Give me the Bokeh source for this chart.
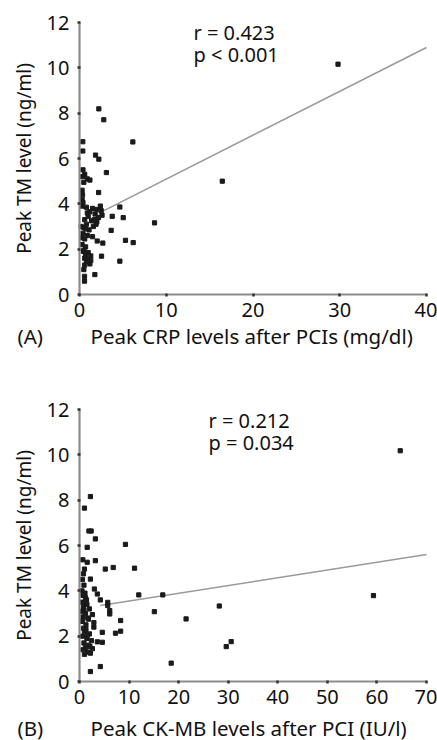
import math
from bokeh.plotting import figure
from bokeh.layouts import column
from bokeh.models import Range1d, FixedTicker, Label, LinearAxis
from bokeh.embed import file_html
from bokeh.resources import INLINE

# ---------------- data ----------------
crp = [2.23, 2.8, 0.38, 0.38, 6.15, 1.85, 2.23, 3.1, 0.4, 0.6, 0.9, 1.2, 0.5,
       2.2, 0.3, 0.35, 0.3, 0.4, 4.65, 0.8, 1.5, 2.0, 2.5, 1.2, 1.8, 2.6, 1.0,
       2.2, 3.77, 5.04, 8.65, 0.6, 1.4, 2.0, 0.8, 1.6, 0.5, 1.1, 3.65, 0.4,
       0.9, 1.5, 0.6, 2.04, 2.69, 5.3, 6.19, 0.3, 0.7, 0.5, 1.0, 0.7, 1.3,
       2.54, 0.6, 1.0, 0.8, 4.65, 1.2, 0.6, 1.77, 0.58, 0.58, 16.46, 29.8,
       0.3, 0.2, 0.25, 0.9, 1.7, 2.4, 0.45, 1.3, 0.7, 0.35, 1.9, 0.5]
tm_a = [8.19, 7.71, 6.74, 6.33, 6.73, 6.15, 5.97, 5.38, 5.5, 5.3, 5.1, 5.05,
        4.95, 4.5, 4.6, 4.4, 4.2, 4.05, 3.86, 3.85, 3.8, 3.75, 3.7, 3.65,
        3.55, 3.5, 3.45, 3.4, 3.45, 3.39, 3.16, 3.3, 3.25, 3.2, 3.1, 3.0,
        2.95, 2.85, 2.83, 2.7, 2.6, 2.55, 2.45, 2.36, 2.27, 2.39, 2.29, 2.2,
        2.1, 1.95, 1.85, 1.75, 1.7, 1.69, 1.6, 1.55, 1.45, 1.47, 1.35, 1.3,
        0.88, 0.8, 0.59, 5.0, 10.16,
        3.9, 3.0, 2.5, 3.6, 3.3, 3.9, 1.9, 1.5, 2.9, 5.2, 3.1, 1.1]

ckmb = [2.2, 1.0, 1.9, 2.35, 3.2, 1.55, 9.27, 0.67, 1.55, 3.2, 1.0, 5.2, 6.8,
        11.1, 0.8, 0.6, 2.2, 0.9, 3.0, 0.5, 3.6, 0.7, 1.2, 4.2, 5.7, 5.7, 0.6,
        1.5, 0.8, 2.0, 6.1, 6.1, 0.5, 1.2, 2.6, 0.7, 1.8, 2.9, 0.6, 1.3, 2.9,
        0.8, 11.96, 16.8, 15.1, 8.3, 7.26, 8.3, 4.6, 4.6, 1.0, 2.0, 0.6, 1.5,
        2.4, 3.6, 0.9, 1.8, 1.2, 2.6, 0.7, 1.6, 2.2, 18.5, 2.2, 4.2, 64.7,
        59.3, 28.2, 21.5, 29.6, 30.6,
        1.1, 1.4, 0.9, 1.7, 1.3, 2.1, 1.0, 1.6]
tm_b = [8.16, 7.65, 6.64, 6.64, 6.29, 5.92, 6.05, 5.37, 5.26, 5.33, 4.96,
        4.96, 5.03, 5.0, 4.75, 4.5, 4.52, 4.25, 4.08, 4.0, 3.86, 3.8, 3.7,
        3.6, 3.49, 3.35, 3.5, 3.4, 3.3, 3.2, 3.13, 2.98, 3.1, 3.0, 2.95, 2.85,
        2.75, 2.6, 2.65, 2.5, 2.4, 2.35, 3.82, 3.82, 3.08, 2.69, 2.13, 2.22,
        2.17, 1.73, 2.2, 2.1, 2.0, 1.9, 1.8, 1.75, 1.7, 1.6, 1.5, 1.45, 1.4,
        1.3, 1.25, 0.81, 0.44, 0.66, 10.18, 3.79, 3.33, 2.76, 1.54, 1.76,
        3.9, 3.6, 3.15, 2.8, 2.3, 1.55, 1.2, 2.05]

# regression lines (start / end)
fit_a_x = [2.2, 40]
fit_a_y = [3.58, 10.9]
fit_b_x = [4.2, 70]
fit_b_y = [3.35, 5.6]

y_ticks = [0, 2, 4, 6, 8, 10, 12]
x_ticks_a = [0, 10, 20, 30, 40]
x_ticks_b = [0, 10, 20, 30, 40, 50, 60, 70]

FONT = "Noto Sans"
TXT = "#111111"
W = 437
FL, FR = 79.0, 426.0          # frame left / right (px)
SHIFT = 8                     # label baseline correction (px)


def make_panel(xs, ys, fx, fy, xticks, xmax, height, ftop, fbot,
               letter, xtitle, title_base, stats):
    def dx(px):
        return (px - FL) / (FR - FL) * xmax

    def dy(py):
        return (fbot - py) / (fbot - ftop) * 12

    p = figure(width=W, height=height, output_backend="svg",
               toolbar_location=None, title=None,
               x_range=Range1d(dx(0), dx(W)), y_range=Range1d(dy(height), dy(0)),
               x_axis_location=None, y_axis_location=None, min_border=0)
    p.outline_line_color = None
    p.grid.visible = False

    xa = LinearAxis(fixed_location=0, bounds=(0, xmax),
                    ticker=FixedTicker(ticks=xticks))
    ya = LinearAxis(fixed_location=0, bounds=(0, 12),
                    ticker=FixedTicker(ticks=y_ticks))
    for ax in (xa, ya):
        ax.axis_line_color = "#8c8c8c"
        ax.axis_line_width = 2.2
        ax.major_tick_line_color = "#333333"
        ax.major_tick_line_width = 2.5
        ax.major_tick_in = 1
        ax.major_tick_out = 2
        ax.minor_tick_line_color = None
        ax.major_label_text_font = FONT
        ax.major_label_text_font_size = "20px"
        ax.major_label_text_color = TXT
    xa.major_label_standoff = 6
    ya.major_label_standoff = 8
    p.add_layout(xa, "below")
    p.add_layout(ya, "left")

    p.line(fx, fy, line_color="#9a9a9a", line_width=1.6)
    p.scatter(xs, ys, marker="square", size=4.2, fill_color="#1a1a1a",
              line_color="#1a1a1a")

    common = dict(text_font=FONT, text_color=TXT, text_baseline="alphabetic")
    tb = title_base - SHIFT
    p.add_layout(Label(x=dx(17), y=dy(tb), text=letter,
                       text_font_size="20.5px", **common))
    p.add_layout(Label(x=dx(90), y=dy(tb), text=xtitle,
                       text_font_size="20.5px", **common))
    p.add_layout(Label(x=dx(31 - SHIFT), y=dy((ftop + fbot) / 2),
                       text="Peak TM level (ng/ml)", angle=math.pi / 2,
                       text_align="center", text_font_size="19px", **common))
    (sx, b1, b2, t1, t2) = stats
    p.add_layout(Label(x=dx(sx), y=dy(b1 - SHIFT), text=t1,
                       text_font_size="20px", **common))
    p.add_layout(Label(x=dx(sx), y=dy(b2 - SHIFT), text=t2,
                       text_font_size="20px", **common))
    return p


# panel A occupies page rows 0..350, panel B rows 350..740
pa = make_panel(crp, tm_a, fit_a_x, fit_a_y, x_ticks_a, 40, 350, 22, 294,
                "(A)", "Peak CRP levels after PCIs (mg/dl)", 343,
                (193, 40, 62, "r = 0.423", "p < 0.001"))
pb = make_panel(ckmb, tm_b, fit_b_x, fit_b_y, x_ticks_b, 70, 390, 59, 331,
                "(B)", "Peak CK-MB levels after PCI (IU/l)", 385,
                (208, 78, 100, "r = 0.212", "p  = 0.034"))

layout = column(pa, pb, spacing=0)
open("out.html", "w").write(file_html(layout, INLINE))
